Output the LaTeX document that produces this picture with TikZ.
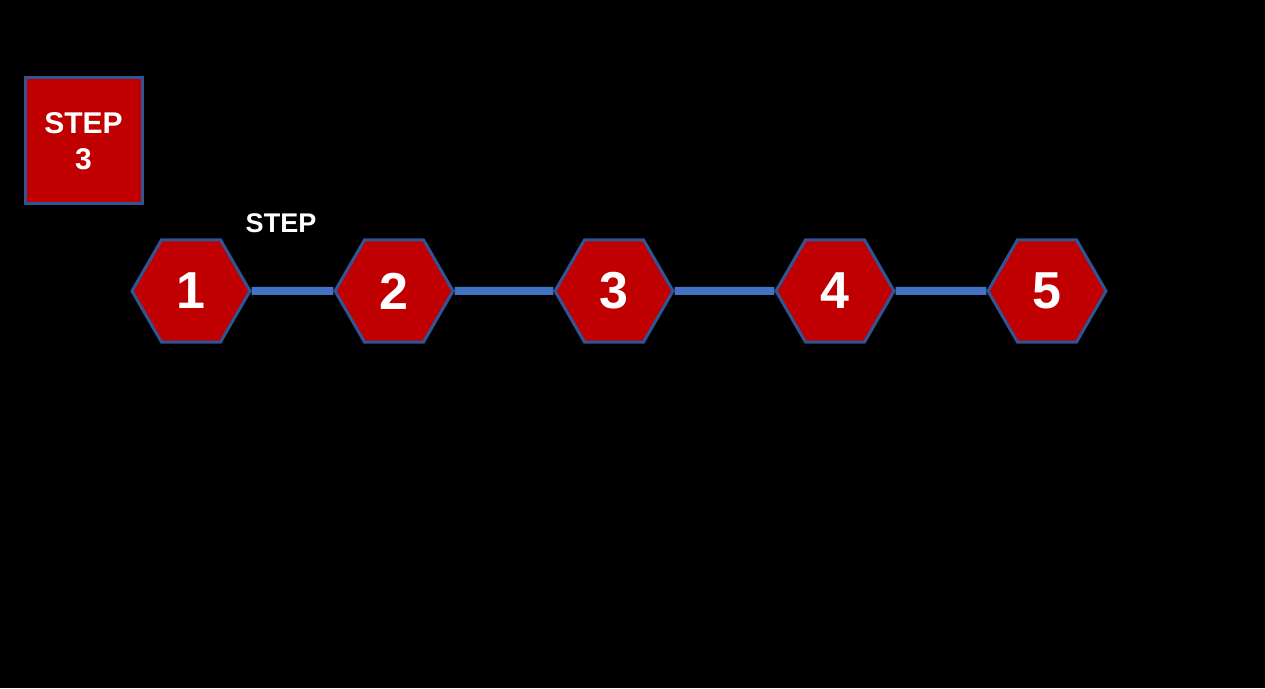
\documentclass[tikz,border=0pt]{standalone}
\usepackage{fontspec}
\setmainfont{Liberation Sans}
\usetikzlibrary{shapes.geometric}

\begin{document}
\begin{tikzpicture}[
  x=1pt, y=1pt,
  hexa/.style={
    regular polygon,
    regular polygon sides=6,
    minimum size=118pt,
    inner sep=0pt,
    draw=edgeblue,
    line width=3pt,
    fill=stepred,
    text=white,
    font=\bfseries\fontsize{52}{52}\selectfont
  },
  badge/.style={
    draw=edgeblue,
    line width=3pt,
    fill=stepred,
    text=white,
    align=center,
    minimum width=117pt,
    minimum height=126pt,
    font=\bfseries\fontsize{30}{36}\selectfont
  },
  line/.style={draw=linkblue, line width=8pt}
]
\definecolor{stepred}{HTML}{C00000}
\definecolor{linkblue}{HTML}{4472C4}
\definecolor{edgeblue}{HTML}{2F5597}
\fill[black] (0,0) rectangle (1265,688);
\useasboundingbox (0,0) rectangle (1265,688);

\node[badge] (current) at (83.5,547) {STEP\\3};
\node[text=white, font=\bfseries\fontsize{27}{27}\selectfont] (steplabel) at (281,465) {STEP};

\node[hexa] (one) at (191,397) {1};
\node[hexa] (two) at (394,397) {2};
\node[hexa] (three) at (614,397) {3};
\node[hexa] (four) at (835,397) {4};
\node[hexa] (five) at (1047,397) {5};

\draw[line] (one) -- (two);
\draw[line] (two) -- (three);
\draw[line] (three) -- (four);
\draw[line] (four) -- (five);
\end{tikzpicture}
\end{document}
